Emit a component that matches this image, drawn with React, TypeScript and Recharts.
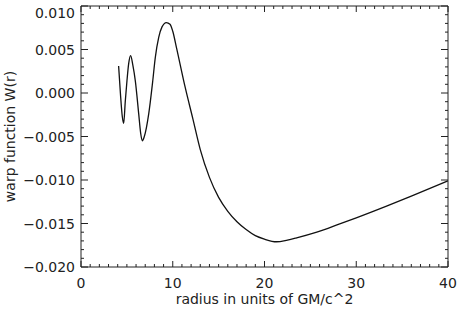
import { LineChart, Line, XAxis, YAxis } from 'recharts'

// radius (GM/c^2) and warp function W(r)
const radius = [
  4.1, 4.3, 4.5, 4.65, 4.83, 5.01, 5.2, 5.41, 5.65, 5.92, 6.29, 6.5, 6.68, 6.9,
  7.38, 7.8, 8.1, 8.47, 8.83, 9.3, 9.7, 10.0, 10.43, 11.3, 12.2, 13.0, 14.0,
  15.0, 16.0, 17.0, 18.0, 19.0, 20.0, 21.3, 22.5, 23.5, 25.7, 28.2, 30, 33.3,
  36, 40,
]
const warp = [
  0.0031, -0.0001, -0.0027, -0.0035, -0.0009, 0.0014, 0.0034, 0.0043, 0.0032,
  0.0014, -0.0024, -0.0046, -0.0055, -0.005, -0.0024, 0.0012, 0.0041, 0.0064,
  0.0076, 0.0081, 0.0079, 0.0071, 0.0051, 0.0009, -0.003, -0.0065, -0.0097,
  -0.012, -0.0136, -0.0148, -0.0157, -0.0164, -0.0168, -0.0171, -0.0169,
  -0.01665, -0.016, -0.01505, -0.01435, -0.013, -0.01185, -0.0101,
]

const xMajor = [0, 10, 20, 30, 40]
const yMajor = [-0.02, -0.015, -0.01, -0.005, 0, 0.005, 0.01]
const xTicks = Array.from({ length: 41 }, (_, i) => i)
const yTicks = Array.from({ length: 31 }, (_, i) => (i - 20) / 1000)

const data = radius.map((r, i) => ({ r, w: warp[i] }))

const FONT = 'DejaVu Sans'
const INK = '#222'

const isMajor = (v: number, list: number[]) => list.some((m) => Math.abs(m - v) < 1e-9)
const fmtY = (v: number) => (v < 0 ? '\u2212' : '') + Math.abs(v).toFixed(3)

function XTick(props: any) {
  const { x, y, payload, side } = props
  const major = isMajor(payload.value, xMajor)
  const len = major ? 6 : 3
  const d = `M${x},${y}v${side === 'top' ? len : -len}`
  return (
    <g>
      <path d={d} stroke={INK} strokeWidth={1} fill="none" />
      {side !== 'top' && major && (
        <text x={x} y={y + 21} textAnchor="middle" fontFamily={FONT} fontSize={14} fill={INK}>
          {payload.value}
        </text>
      )}
    </g>
  )
}

function YTick(props: any) {
  const { x, y, payload, side } = props
  const major = isMajor(payload.value, yMajor)
  const len = major ? 7 : 3
  const d = `M${x},${y}h${side === 'right' ? -len : len}`
  return (
    <g>
      <path d={d} stroke={INK} strokeWidth={1} fill="none" />
      {side !== 'right' && major && (
        <text x={x - 6} y={Math.max(y, 12.5)} dy={5} textAnchor="end" fontFamily={FONT} fontSize={14} fill={INK}>
          {fmtY(payload.value)}
        </text>
      )}
    </g>
  )
}

export default function App() {
  return (
    <div style={{ position: 'absolute', left: 0, top: 0, width: 458, height: 309, background: '#fff' }}>
      <LineChart width={458} height={309} data={data} margin={{ top: 5, right: 9, bottom: 0, left: 0 }}>
        <XAxis
          xAxisId="b"
          dataKey="r"
          type="number"
          domain={[0, 40]}
          allowDataOverflow
          ticks={xTicks}
          interval={0}
          height={42}
          tickSize={0}
          tickMargin={0}
          axisLine={{ stroke: INK }}
          tick={<XTick side="bottom" />}
          label={{ value: 'radius in units of GM/c^2', position: 'insideBottom', offset: 5, fontFamily: FONT, fontSize: 14, fill: INK }}
        />
        <XAxis
          xAxisId="t"
          dataKey="r"
          orientation="top"
          type="number"
          domain={[0, 40]}
          allowDataOverflow
          ticks={xTicks}
          interval={0}
          height={1}
          tickSize={0}
          tickMargin={0}
          axisLine={{ stroke: INK }}
          tick={<XTick side="top" />}
        />
        <YAxis
          yAxisId="l"
          dataKey="w"
          type="number"
          domain={[-0.02, 0.01]}
          allowDataOverflow
          ticks={yTicks}
          interval={0}
          width={81}
          tickSize={0}
          tickMargin={0}
          axisLine={{ stroke: INK }}
          tick={<YTick side="left" />}
          label={{ value: 'warp function W(r)', angle: -90, position: 'insideLeft', offset: 10, fontFamily: FONT, fontSize: 14, fill: INK, style: { textAnchor: 'middle' } }}
        />
        <YAxis
          yAxisId="r"
          dataKey="w"
          orientation="right"
          type="number"
          domain={[-0.02, 0.01]}
          allowDataOverflow
          ticks={yTicks}
          interval={0}
          width={1}
          tickSize={0}
          tickMargin={0}
          axisLine={{ stroke: INK }}
          tick={<YTick side="right" />}
        />
        <Line
          xAxisId="b"
          yAxisId="l"
          type="monotone"
          dataKey="w"
          stroke="#111"
          strokeWidth={1.3}
          dot={false}
          isAnimationActive={false}
        />
      </LineChart>
    </div>
  )
}
